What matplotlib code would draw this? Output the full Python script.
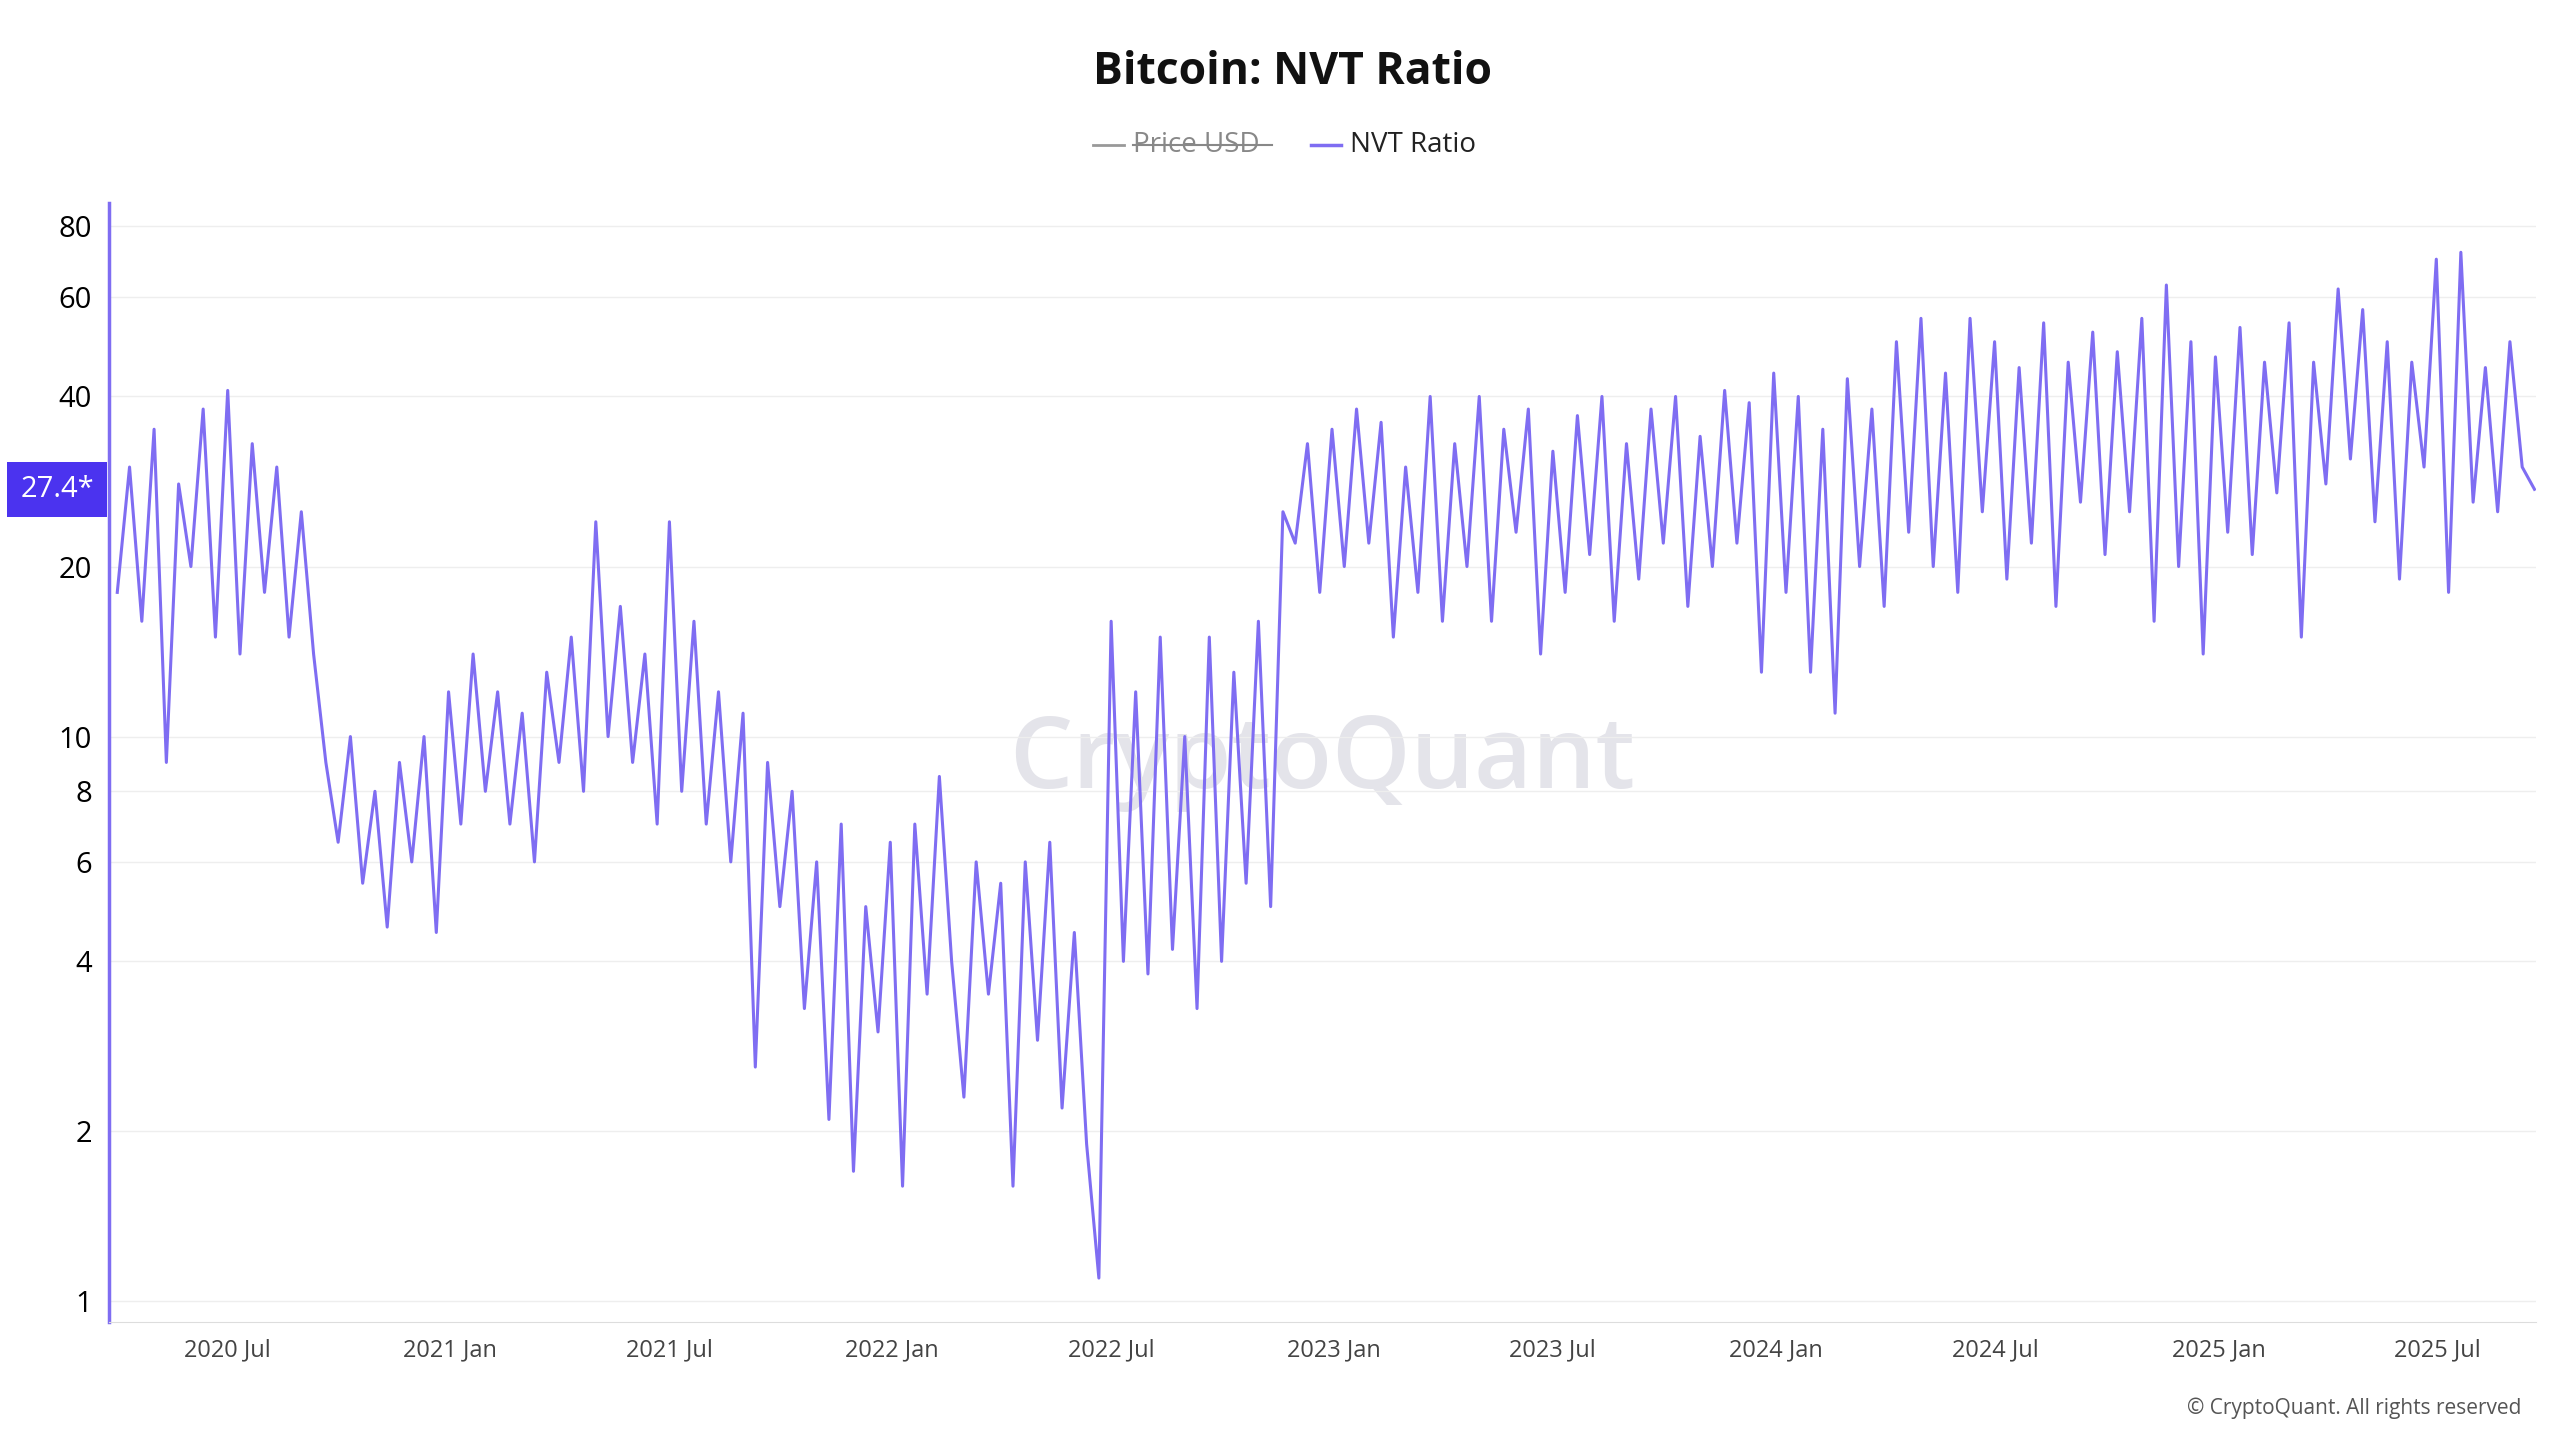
import numpy as np
import pandas as pd
import matplotlib.pyplot as plt
from matplotlib.lines import Line2D

plt.rcParams['font.family'] = 'Open Sans'

# NVT ratio, roughly 3 readings per month, Apr 2020 .. Sep 2025
nvt = [18, 30, 16, 35, 9, 28, 20, 38, 15, 41, 14, 33, 18, 30, 15, 25, 14, 9,
       6.5, 10, 5.5, 8, 4.6, 9, 6, 10, 4.5,
       12, 7, 14, 8, 12, 7, 11, 6, 13, 9, 15, 8, 24, 10, 17, 9, 14, 7,
       24, 8, 16, 7, 12, 6, 11, 2.6, 9, 5, 8, 3.3, 6, 2.1, 7, 1.7, 5, 3,
       6.5, 1.6, 7, 3.5, 8.5, 4, 2.3, 6, 3.5, 5.5, 1.6, 6, 2.9, 6.5, 2.2,
       4.5, 1.9, 1.1, 16, 4, 12, 3.8, 15, 4.2, 10, 3.3, 15, 4, 13, 5.5,
       16, 5, 25, 22, 33, 18,
       35, 20, 38, 22, 36, 15, 30, 18, 40, 16, 33, 20, 40, 16, 35, 23, 38, 14,
       32, 18, 37, 21, 40, 16, 33, 19, 38, 22, 40, 17, 34, 20, 41, 22, 39, 13,
       44, 18, 40, 13, 35, 11, 43, 20, 38, 17, 50, 23, 55, 20, 44, 18, 55, 25,
       50, 19, 45, 22, 54, 17, 46, 26, 52, 21, 48, 25, 55, 16, 63, 20, 50, 14,
       47, 23, 53, 21, 46, 27, 54, 15, 46, 28, 62, 31, 57, 24, 50, 19, 46, 30,
       70, 18, 72, 26, 45, 25, 50, 30, 27.4]
dates = pd.date_range('2020-04-01', '2025-09-19', periods=len(nvt))

y_ticks = [1, 2, 4, 6, 8, 10, 20, 40, 60, 80]
x_ticks = pd.to_datetime(['2020-07-01', '2021-01-01', '2021-07-01', '2022-01-01',
                          '2022-07-01', '2023-01-01', '2023-07-01', '2024-01-01',
                          '2024-07-01', '2025-01-01', '2025-07-01'])
x_labels = ['2020 Jul', '2021 Jan', '2021 Jul', '2022 Jan', '2022 Jul', '2023 Jan',
            '2023 Jul', '2024 Jan', '2024 Jul', '2025 Jan', '2025 Jul']

line_c = '#7f6df2'
fig = plt.figure(figsize=(25.6, 14.4), dpi=100)
ax = fig.add_axes([0.0425, 0.082, 0.948, 0.777])
ax.plot(dates, nvt, color=line_c, lw=2.2)
ax.set_yscale('log')
ax.set_ylim(0.92, 88)
ax.set_xlim(pd.Timestamp('2020-03-25'), pd.Timestamp('2025-09-20'))
ax.set_yticks(y_ticks)
ax.set_yticklabels([str(v) for v in y_ticks], fontsize=21)
ax.minorticks_off()
ax.set_xticks(x_ticks)
ax.set_xticklabels(x_labels, fontsize=17, color='#444444')
ax.tick_params(length=0, pad=12)
ax.grid(axis='y', color='#eeeeee', lw=1)
for s in ['top', 'right']:
    ax.spines[s].set_visible(False)
ax.spines['left'].set_color(line_c)
ax.spines['left'].set_linewidth(2.5)
ax.spines['bottom'].set_color('#dddddd')

ax.text(0.5, 0.5, 'CryptoQuant', transform=ax.transAxes, fontsize=72,
        fontweight='semibold', color='#e4e4ea', ha='center', va='center', zorder=0)
ax.text(-0.006, 27.4, '27.4*', transform=ax.get_yaxis_transform(), fontsize=21,
        color='white', ha='right', va='center',
        bbox=dict(boxstyle='square,pad=0.45', fc='#4b33ef', ec='none'))

fig.text(0.505, 0.95, 'Bitcoin: NVT Ratio', fontsize=32, fontweight='bold',
         ha='center', va='center', color='#111111')
fig.add_artist(Line2D([0.427, 0.439], [0.899, 0.899], color='#999999', lw=2))
fig.text(0.4425, 0.899, 'Price USD', fontsize=20, color='#888888', va='center')
fig.add_artist(Line2D([0.4425, 0.497], [0.899, 0.899], color='#888888', lw=1.5))
fig.add_artist(Line2D([0.512, 0.524], [0.899, 0.899], color=line_c, lw=2.5))
fig.text(0.5275, 0.899, 'NVT Ratio', fontsize=20, color='#222222', va='center')
fig.text(0.985, 0.022, '© CryptoQuant. All rights reserved', fontsize=15,
         color='#555555', ha='right', va='center')

fig.savefig('out.png', dpi=100)
